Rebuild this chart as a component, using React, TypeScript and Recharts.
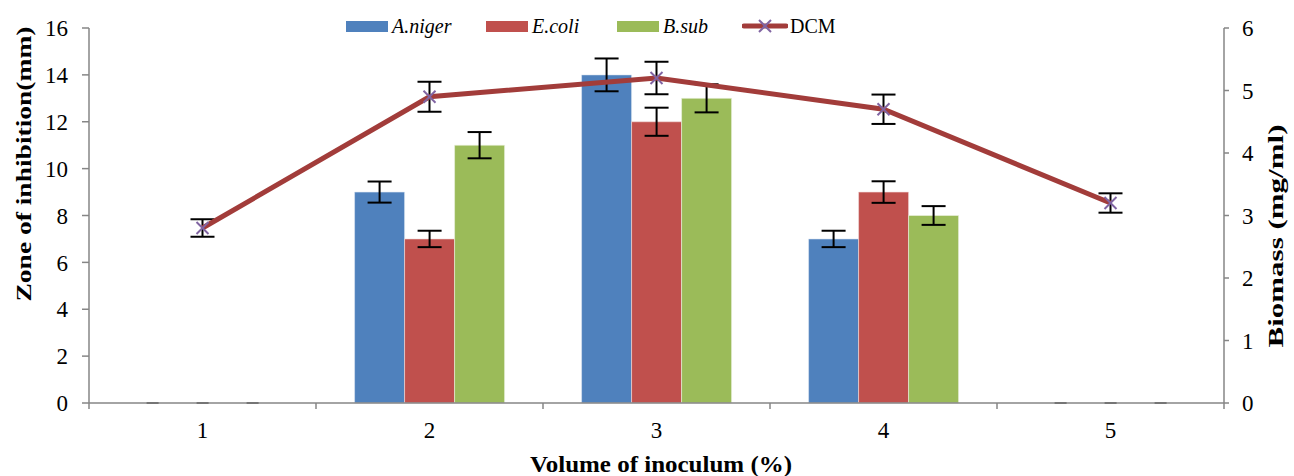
import React from "react";
import {
  ComposedChart,
  Bar,
  Line,
  XAxis,
  YAxis,
  ErrorBar,
  Rectangle,
} from "recharts";

const categories = ["1", "2", "3", "4", "5"];
const aniger = [0, 9, 14, 7, 0];
const anigerErr = [0, 0.45, 0.7, 0.35, 0];
const ecoli = [0, 7, 12, 9, 0];
const ecoliErr = [0, 0.35, 0.6, 0.46, 0];
const bsub = [0, 11, 13, 8, 0];
const bsubErr = [0, 0.56, 0.6, 0.4, 0];
const dcm = [2.8, 4.9, 5.2, 4.7, 3.2];
const dcmErr = [0.14, 0.24, 0.26, 0.235, 0.155];

const leftTicks = [0, 2, 4, 6, 8, 10, 12, 14, 16];
const rightTicks = [0, 1, 2, 3, 4, 5, 6];

const data = categories.map((c, i) => ({
  cat: c,
  aniger: aniger[i],
  anigerErr: anigerErr[i],
  ecoli: ecoli[i],
  ecoliErr: ecoliErr[i],
  bsub: bsub[i],
  bsubErr: bsubErr[i],
  dcm: dcm[i],
  dcmErr: dcmErr[i],
}));

const FONT = "'Liberation Serif', 'DejaVu Serif', 'Times New Roman', serif";
const AXIS_GREY = "#868686";
const W = 1294;
const H = 476;
const PLOT_LEFT = 89;
const PLOT_RIGHT = 1224;
const BAND = (PLOT_RIGHT - PLOT_LEFT) / categories.length;
const TICK_FONT = 23;

const XTick = ({ x, y, payload, index }: any) => (
  <g>
    <line x1={x - BAND / 2} x2={x - BAND / 2} y1={y} y2={y + 6} stroke={AXIS_GREY} strokeWidth={1.5} />
    {index === categories.length - 1 && (
      <line x1={x + BAND / 2} x2={x + BAND / 2} y1={y} y2={y + 6} stroke={AXIS_GREY} strokeWidth={1.5} />
    )}
    <text x={x} y={y + 35} textAnchor="middle" fontSize={TICK_FONT} fontFamily={FONT} fill="#000">
      {payload.value}
    </text>
  </g>
);

// bars of zero height still show their (zero) error cap as a short dash on the axis
const BarWithZeroCap = (props: any) => {
  const { x, y, width, height } = props;
  if (!height) {
    const cx = x + width / 2;
    return <line x1={cx - 6} x2={cx + 6} y1={y} y2={y} stroke="#444" strokeWidth={2} />;
  }
  return <Rectangle {...props} />;
};

const CrossDot = ({ cx, cy }: any) => {
  if (cx == null || cy == null) return null;
  const s = 6;
  return (
    <g stroke="#8064A2" strokeWidth={2}>
      <line x1={cx - s} y1={cy - s} x2={cx + s} y2={cy + s} />
      <line x1={cx - s} y1={cy + s} x2={cx + s} y2={cy - s} />
    </g>
  );
};

const legendItems = [
  { name: "A.niger", color: "#4F81BD", italic: true, left: 346, type: "bar" },
  { name: "E.coli", color: "#C0504D", italic: true, left: 486, type: "bar" },
  { name: "B.sub", color: "#9BBB59", italic: true, left: 617, type: "bar" },
  { name: "DCM", color: "#A23C3A", italic: false, left: 742, type: "line" },
];

// rotated axis title, stretched along its length like the original
const VTitle = (text: string, x: number, cy: number, len: number) => () => (
  <text
    x={x}
    y={cy}
    transform={`rotate(-90 ${x} ${cy})`}
    textAnchor="middle"
    dominantBaseline="central"
    fontSize={21}
    fontWeight="bold"
    fontFamily={FONT}
    fill="#000"
    textLength={len}
    lengthAdjust="spacingAndGlyphs"
  >
    {text}
  </text>
);

const XTitle = () => (
  <text
    x={661}
    y={472}
    textAnchor="middle"
    fontSize={23}
    fontWeight="bold"
    fontFamily={FONT}
    fill="#000"
    textLength={262}
    lengthAdjust="spacingAndGlyphs"
  >
    Volume of inoculum (%)
  </text>
);

export default function App() {
  return (
    <div style={{ position: "absolute", left: 0, top: 0, width: W, height: H, background: "#fff", overflow: "hidden" }}>
      <ComposedChart
        width={W}
        height={H}
        data={data}
        margin={{ top: 28, right: 0, bottom: 0, left: 0 }}
        barCategoryGap="17%"
        barGap={0}
      >
        <XAxis
          dataKey="cat"
          xAxisId="x"
          height={73}
          tickLine={false}
          tickSize={0}
          tickMargin={0}
          interval={0}
          stroke={AXIS_GREY}
          strokeWidth={1.5}
          tick={<XTick />}
          label={{ content: XTitle }}
        />
        <YAxis
          yAxisId="left"
          width={89}
          domain={[0, 16]}
          ticks={leftTicks}
          interval={0}
          tickSize={7}
          tickMargin={14}
          stroke={AXIS_GREY}
          strokeWidth={1.5}
          tick={{ fill: "#000", fontSize: TICK_FONT, fontFamily: FONT }}
          label={{ content: VTitle("Zone of inhibition(mm)", 24, 164, 275) }}
        />
        <YAxis
          yAxisId="right"
          orientation="right"
          width={70}
          domain={[0, 6]}
          ticks={rightTicks}
          interval={0}
          tickSize={5}
          tickMargin={13}
          stroke={AXIS_GREY}
          strokeWidth={1.5}
          tick={{ fill: "#000", fontSize: TICK_FONT, fontFamily: FONT }}
          label={{ content: VTitle("Biomass (mg/ml)", 1276, 236, 223) }}
        />
        <Bar dataKey="aniger" xAxisId="x" yAxisId="left" fill="#4F81BD" stroke="#dfe8f3" strokeWidth={0.6} shape={BarWithZeroCap} isAnimationActive={false}>
          <ErrorBar dataKey="anigerErr" width={12} stroke="#000" strokeWidth={2} direction="y" />
        </Bar>
        <Bar dataKey="ecoli" xAxisId="x" yAxisId="left" fill="#C0504D" stroke="#f3dede" strokeWidth={0.6} shape={BarWithZeroCap} isAnimationActive={false}>
          <ErrorBar dataKey="ecoliErr" width={12} stroke="#000" strokeWidth={2} direction="y" />
        </Bar>
        <Bar dataKey="bsub" xAxisId="x" yAxisId="left" fill="#9BBB59" stroke="#eef3e2" strokeWidth={0.6} shape={BarWithZeroCap} isAnimationActive={false}>
          <ErrorBar dataKey="bsubErr" width={12} stroke="#000" strokeWidth={2} direction="y" />
        </Bar>
        <Line
          dataKey="dcm"
          xAxisId="x"
          yAxisId="right"
          type="linear"
          stroke="#A23C3A"
          strokeWidth={5}
          dot={<CrossDot />}
          activeDot={false}
          isAnimationActive={false}
        >
          <ErrorBar dataKey="dcmErr" width={12} stroke="#000" strokeWidth={2} direction="y" />
        </Line>
      </ComposedChart>

      {legendItems.map((it) => (
        <div
          key={it.name}
          style={{
            position: "absolute",
            left: it.left,
            top: 12,
            height: 28,
            display: "flex",
            alignItems: "center",
            fontFamily: FONT,
            fontSize: 20,
            fontStyle: it.italic ? "italic" : "normal",
            color: "#000",
            whiteSpace: "nowrap",
          }}
        >
          {it.type === "bar" ? (
            <span style={{ display: "inline-block", width: 42, height: 11, background: it.color, marginRight: 4 }} />
          ) : (
            <svg width={46} height={16} style={{ marginRight: 2 }}>
              <line x1={2} x2={44} y1={8} y2={8} stroke={it.color} strokeWidth={5} strokeLinecap="round" />
              <line x1={17} y1={2} x2={29} y2={14} stroke="#8064A2" strokeWidth={2} />
              <line x1={17} y1={14} x2={29} y2={2} stroke="#8064A2" strokeWidth={2} />
            </svg>
          )}
          <span>{it.name}</span>
        </div>
      ))}
    </div>
  );
}
